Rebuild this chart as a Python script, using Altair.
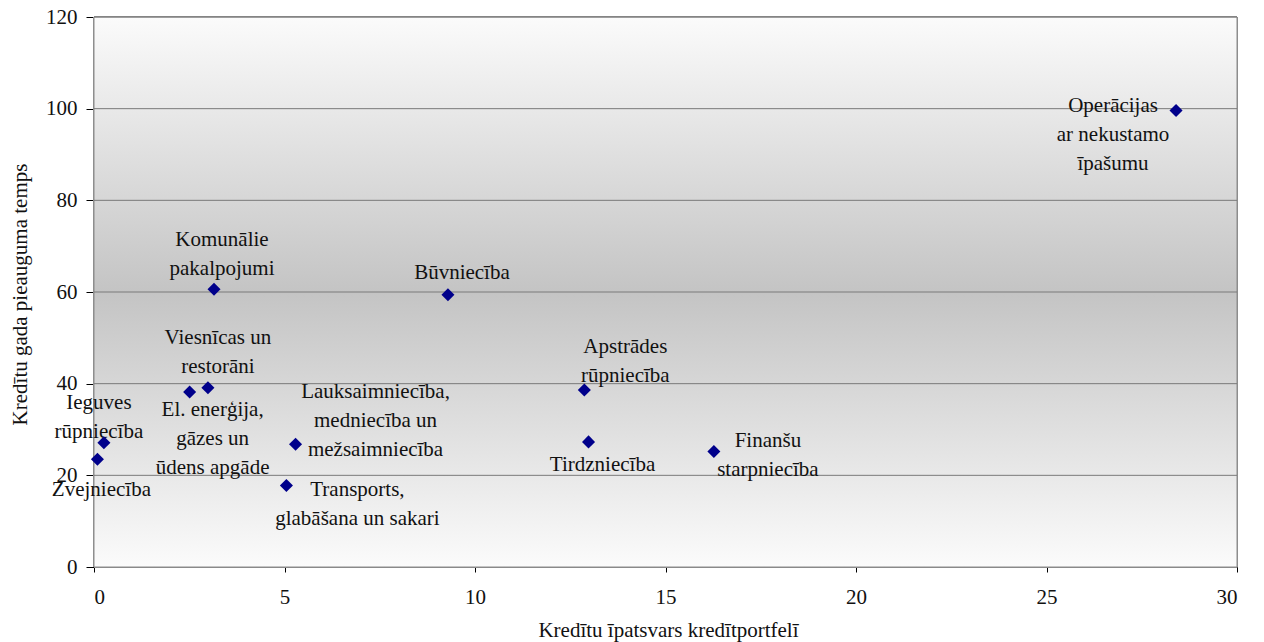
import altair as alt
import pandas as pd

# Sectors: share of credit portfolio (%) vs annual credit growth rate (%)
sectors = [
    "Operācijas ar nekustamo īpašumu",
    "Komunālie pakalpojumi",
    "Būvniecība",
    "Viesnīcas un restorāni",
    "El. enerģija, gāzes un ūdens apgāde",
    "Ieguves rūpniecība",
    "Zvejniecība",
    "Lauksaimniecība, medniecība un mežsaimniecība",
    "Transports, glabāšana un sakari",
    "Apstrādes rūpniecība",
    "Tirdzniecība",
    "Finanšu starpniecība",
]
portfolio_share = [28.4, 3.15, 9.29, 2.99, 2.51, 0.26, 0.09, 5.29, 5.05, 12.87, 12.98, 16.27]
growth_rate = [99.6, 60.6, 59.4, 39.1, 38.2, 27.1, 23.5, 26.8, 17.8, 38.6, 27.3, 25.2]

# Label text as drawn (line breaks included)
label_text = [
    "Operācijas\nar nekustamo\nīpašumu",
    "Komunālie\npakalpojumi",
    "Būvniecība",
    "Viesnīcas un\nrestorāni",
    "El. enerģija,\ngāzes un\nūdens apgāde",
    "Ieguves\nrūpniecība",
    "Zvejniecība",
    "Lauksaimniecība,\nmedniecība un\nmežsaimniecība",
    "Transports,\nglabāšana  un sakari",
    "Apstrādes\nrūpniecība",
    "Tirdzniecība",
    "Finanšu\nstarpniecība",
]
# Position of each label's first line relative to its point, in pixels (right, down)
label_dx = [-63, 8, 14, 10, 23, -5, 4, 80, 71, 41, 14, 54]
label_dy = [-5, -49, -22, -50, 18, -40, 31, -52, 5, -43, 23, -11]

x_ticks = [0, 5, 10, 15, 20, 25, 30]
y_ticks = [0, 20, 40, 60, 80, 100, 120]

W, H = 1143, 550
X_MAX, Y_MAX = 30, 120
FONT = "Liberation Serif"

df = pd.DataFrame({
    "sector": sectors,
    "x": portfolio_share,
    "y": growth_rate,
    "label": label_text,
})
df["lx"] = [x + dx * X_MAX / W for x, dx in zip(portfolio_share, label_dx)]
df["ly"] = [y - dy * Y_MAX / H for y, dy in zip(growth_rate, label_dy)]

grid_df = pd.DataFrame({"v": y_ticks[1:]})

x_scale = alt.Scale(domain=[0, X_MAX], nice=False, zero=True)
y_scale = alt.Scale(domain=[0, Y_MAX], nice=False, zero=True)

x_axis = alt.Axis(
    values=x_ticks, grid=False, title="Kredītu īpatsvars kredītportfelī",
    domainColor="#000000", tickColor="#000000", tickSize=5, labelPadding=14,
    labelFont=FONT, labelFontSize=21, labelColor="#111111",
    titleFont=FONT, titleFontSize=21, titleFontWeight="normal", titleColor="#111111",
    titleX=574, titleY=63, titleBaseline="middle", titleAlign="center",
)
y_axis = alt.Axis(
    values=y_ticks, grid=False, title="Kredītu gada pieauguma temps",
    domainColor="#000000", tickColor="#000000", tickSize=8, labelPadding=9,
    labelFont=FONT, labelFontSize=21, labelColor="#111111",
    titleFont=FONT, titleFontSize=21, titleFontWeight="normal", titleColor="#111111",
    titleX=-74, titleY=H / 2 + 2, titleAngle=-90, titleBaseline="middle", titleAlign="center",
)

# Plot-area gradient (light at top and bottom, grey in the middle)
background = alt.Chart(grid_df).mark_rect(
    fill=alt.Gradient(
        gradient="linear",
        stops=[
            alt.GradientStop(color="#fbfbfb", offset=0),
            alt.GradientStop(color="#c4c4c4", offset=0.5),
            alt.GradientStop(color="#fbfbfb", offset=1),
        ],
        x1=0, x2=0, y1=0, y2=1,
    ),
    stroke="#8c8c8c",
    strokeWidth=1,
).encode(
    x=alt.value(0), x2=alt.value(W), y=alt.value(0), y2=alt.value(H)
)

grid = alt.Chart(grid_df).mark_rule(color="#7a7a7a", strokeWidth=1).encode(
    y=alt.Y("v:Q", scale=y_scale, axis=y_axis)
)

labels = alt.Chart(df).mark_text(
    font=FONT, fontSize=21, color="#111111", lineBreak="\n", lineHeight=29,
    align="center", baseline="middle",
).encode(
    x=alt.X("lx:Q", scale=x_scale, axis=x_axis),
    y=alt.Y("ly:Q", scale=y_scale, axis=y_axis),
    text="label:N",
)

points = alt.Chart(df).mark_point(
    shape="diamond", filled=True, size=170, color="#00008b", opacity=1
).encode(
    x=alt.X("x:Q", scale=x_scale, axis=x_axis),
    y=alt.Y("y:Q", scale=y_scale, axis=y_axis),
    tooltip=["sector:N", "x:Q", "y:Q"],
)

chart = (
    alt.layer(background, grid, labels, points)
    .properties(
        width=W, height=H,
        autosize=alt.AutoSizeParams(type="none"),
        padding={"left": 94, "top": 17, "right": 27, "bottom": 75},
        background="#ffffff",
    )
    .configure_view(strokeWidth=0)
)

chart.save("out.html", embed_options={"renderer": "svg", "actions": False})
